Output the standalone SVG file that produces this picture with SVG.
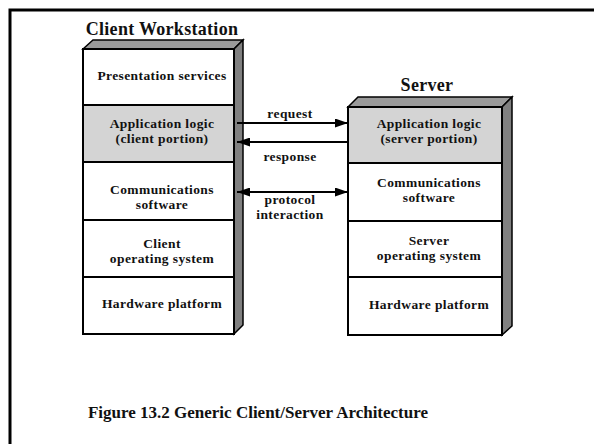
<svg xmlns="http://www.w3.org/2000/svg" width="594" height="444" viewBox="0 0 594 444">
  <defs>
    <marker id="ah" viewBox="0 0 13 9" refX="13" refY="4.5" markerWidth="13" markerHeight="9" markerUnits="userSpaceOnUse" orient="auto-start-reverse">
      <path d="M0,0 L13,4.5 L0,9 Z" fill="#000"/>
    </marker>
    <style>
      text { font-weight: bold; fill: #111; text-anchor: middle; }
      .title { font-size: 18px; letter-spacing: 0.3px; }
      .caption { font-size: 17px; }
      .lbl { font-size: 13.5px; letter-spacing: 0.4px; }
      .layer { stroke: #000; stroke-width: 2; fill: #fff; }
      .shade { fill: #d4d4d4; }
      .top { fill: #9a9a9a; stroke: #000; stroke-width: 1.5; }
      .side { fill: #808080; stroke: #000; stroke-width: 1.5; }
      .conn { stroke: #000; stroke-width: 2; fill: none; }
    </style>
  </defs>

  <rect width="594" height="444" fill="#fff"/>
  <!-- frame -->
  <path d="M10,444 V10 H594" fill="none" stroke="#000" stroke-width="3"/>

  <g font-family="Liberation Serif, Times New Roman, DejaVu Serif, serif">
  <!-- client stack -->
  <g id="client">
    <text class="title" x="162" y="35">Client Workstation</text>
    <path class="top" d="M83,49 L93,40 L243,40 L234,49 Z"/>
    <path class="side" d="M234,49 L243,40 L243,325 L234,334 Z"/>
    <rect class="layer" x="83" y="49" width="151" height="56"/>
    <rect class="layer shade" x="83" y="105" width="151" height="57"/>
    <rect class="layer" x="83" y="162" width="151" height="58"/>
    <rect class="layer" x="83" y="220" width="151" height="57"/>
    <rect class="layer" x="83" y="277" width="151" height="57"/>
    <text class="lbl" x="162" y="80">Presentation services</text>
    <text class="lbl" x="162" y="128">Application logic</text>
    <text class="lbl" x="162" y="143">(client portion)</text>
    <text class="lbl" x="162" y="194">Communications</text>
    <text class="lbl" x="162" y="209">software</text>
    <text class="lbl" x="162" y="248">Client</text>
    <text class="lbl" x="162" y="263">operating system</text>
    <text class="lbl" x="162" y="308">Hardware platform</text>
  </g>

  <!-- server stack -->
  <g id="server">
    <text class="title" x="427" y="91">Server</text>
    <path class="top" d="M348,107 L358,97 L512,97 L502,107 Z"/>
    <path class="side" d="M502,107 L512,97 L512,326 L502,335 Z"/>
    <rect class="layer shade" x="348" y="107" width="154" height="56"/>
    <rect class="layer" x="348" y="163" width="154" height="58"/>
    <rect class="layer" x="348" y="221" width="154" height="56"/>
    <rect class="layer" x="348" y="277" width="154" height="58"/>
    <text class="lbl" x="429" y="128">Application logic</text>
    <text class="lbl" x="429" y="143">(server portion)</text>
    <text class="lbl" x="429" y="187">Communications</text>
    <text class="lbl" x="429" y="202">software</text>
    <text class="lbl" x="429" y="245">Server</text>
    <text class="lbl" x="429" y="260">operating system</text>
    <text class="lbl" x="429" y="309">Hardware platform</text>
  </g>

  <!-- connectors -->
  <g id="connectors">
    <line class="conn" x1="237" y1="123" x2="348" y2="123" marker-end="url(#ah)"/>
    <line class="conn" x1="348" y1="142" x2="237" y2="142" marker-end="url(#ah)"/>
    <line class="conn" x1="237" y1="192" x2="348" y2="192" marker-start="url(#ah)" marker-end="url(#ah)"/>
    <text class="lbl" x="290" y="118">request</text>
    <text class="lbl" x="290" y="161">response</text>
    <text class="lbl" x="290" y="204">protocol</text>
    <text class="lbl" x="290" y="219">interaction</text>
  </g>

  <text class="caption" x="258" y="418">Figure 13.2 Generic Client/Server Architecture</text>
  </g>
</svg>
